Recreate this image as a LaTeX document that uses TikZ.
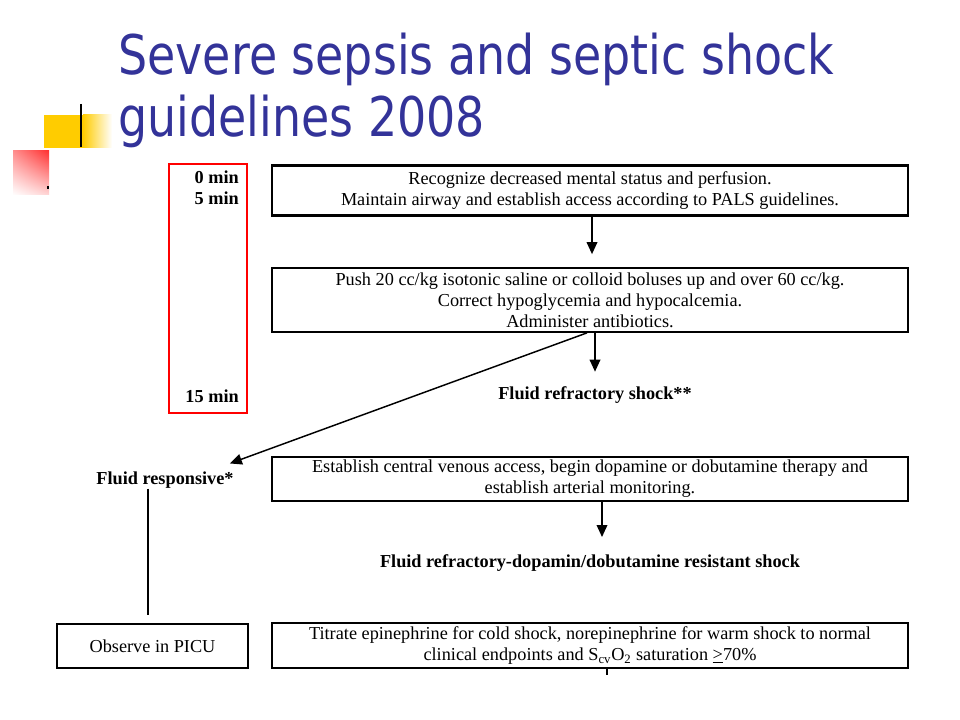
\documentclass[tikz,border=0pt]{standalone}
\usepackage{fontspec}
\setmainfont{Liberation Serif}
\newfontfamily\titlefont[FakeStretch=0.84]{DejaVu Sans}
\usetikzlibrary{arrows.meta,calc,shadings}
\definecolor{titleblue}{RGB}{51,51,153}
\definecolor{decoyellow}{RGB}{255,204,0}
\definecolor{decored}{RGB}{255,50,50}
\begin{document}
\begin{tikzpicture}[x=0.75pt,y=-0.75pt,
  box/.style={draw, line width=1.3pt, inner sep=0pt, align=center,
    font=\fontsize{13.7}{15.75}\selectfont},
  lbl/.style={font=\fontsize{13.7}{15}\selectfont\bfseries, inner sep=0pt},
  arr/.style={line width=1.1pt, -{Triangle[length=9pt,width=8pt]}},
  ln/.style={line width=1.1pt},
  ttl/.style={font=\titlefont\fontsize{41}{48}\selectfont, text=titleblue, inner sep=0pt, anchor=base west}]
\useasboundingbox (0,0) rectangle (960,720);
% decoration
\fill[decoyellow] (44,115) rectangle (83,148);
\shade[left color=decoyellow, right color=white] (83,115) rectangle (112,148);
\shade[upper left=decored!55, upper right=decored, lower left=white, lower right=decored!20] (13,151) rectangle (49,195);
\draw[line width=1.5pt] (81,104) -- (81,147);
\fill (47,186) rectangle (49,189);
% title
\node[ttl] (title1) at (118,75) {Severe sepsis and septic shock};
\node[ttl] (title2) at (118,137) {guidelines 2008};
% time column
\node[draw=red, line width=1.5pt, minimum width=58.5pt, minimum height=186.75pt, inner sep=0pt] (rb) at (208,288.5) {};
\node[lbl, anchor=east] (m0) at (239,177) {0 min};
\node[lbl, anchor=east] (m5) at (239,198) {5 min};
\node[lbl, anchor=east] (m15) at (239,396) {15 min};
% boxes
\node[box, line width=1.6pt, minimum width=477pt, minimum height=37.5pt] (b1) at (590,190.5)
  {Recognize decreased mental status and perfusion.\\Maintain airway and establish access according to PALS guidelines.};
\node[box, minimum width=477pt, minimum height=48pt] (b2) at (590,300)
  {Push 20 cc/kg isotonic saline or colloid boluses up and over 60 cc/kg.\\Correct hypoglycemia and hypocalcemia.\\Administer antibiotics.};
\node[lbl] (frs) at (595,395) {Fluid refractory shock**};
\node[lbl] (fresp) at (165,480) {Fluid responsive*};
\node[box, minimum width=477pt, minimum height=33pt] (b3) at (590,479)
  {Establish central venous access, begin dopamine or dobutamine therapy and\\establish arterial monitoring.};
\node[lbl] (dres) at (590,563) {Fluid refractory-dopamin/dobutamine resistant shock};
\node[box, minimum width=477pt, minimum height=33.75pt] (b4) at (590,645.5)
  {Titrate epinephrine for cold shock, norepinephrine for warm shock to normal\\clinical endpoints and S\textsubscript{cv}O\textsubscript{2} saturation \underline{>}70\%};
\node[box, minimum width=143.25pt, minimum height=33pt] (picu) at (152.5,646) {Observe in PICU};
% connectors
\draw[arr, shorten >=9.75pt] ($(b1.south)+(2,0)$) -- ($(b2.north)+(2,0)$);
\draw[arr, shorten >=11pt] (b2.south -| frs) -- (frs.north);
\draw[arr] ($(b2.south)+(-3,0)$) -- ($(fresp.north east)+(-4,-8)$);
\draw[arr, shorten >=13pt] ($(b3.south)+(12,0)$) -- ($(dres.north)+(12,0)$);
\draw[ln] ([xshift=-3.4pt]fresp.south -| picu.north) -- ([xshift=-3.4pt,yshift=6pt]picu.north);
\coordinate (tk) at (607,675);
\draw[line width=0.8pt] (b4.south -| tk) -- (tk);
\end{tikzpicture}
\end{document}
